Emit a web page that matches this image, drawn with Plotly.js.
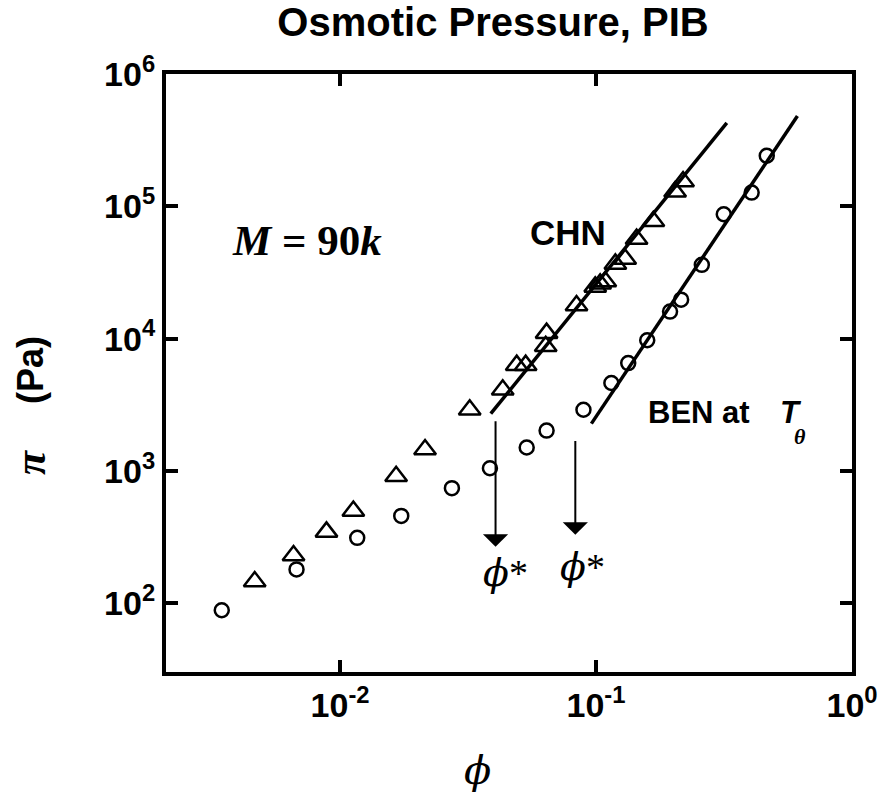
<!DOCTYPE html>
<html>
<head>
<meta charset="utf-8">
<script src="https://cdn.plot.ly/plotly-3.0.1.min.js"></script>
<style>html,body{margin:0;padding:0;background:#fff;}#chart{width:886px;height:795px;}</style>
</head>
<body>
<div id="chart"></div>
<script>
// CHN (triangles)
const chnPhi = [0.00464, 0.00658, 0.00885, 0.01127, 0.01656, 0.02148, 0.0321, 0.0432, 0.0490, 0.0531, 0.0636, 0.0641, 0.0839, 0.0993, 0.1038, 0.1087, 0.119, 0.130, 0.144, 0.1675, 0.2037, 0.2188];
const chnPi  = [146, 229, 346, 498, 912, 1450, 2900, 4100, 6300, 6300, 8750, 11000, 17800, 24600, 26000, 27000, 36700, 40000, 56500, 77000, 129000, 154000];
// BEN at theta (circles)
const benPhi = [0.00345, 0.00676, 0.01167, 0.01734, 0.02735, 0.0385, 0.0536, 0.0641, 0.0893, 0.1148, 0.1336, 0.1585, 0.1946, 0.215, 0.259, 0.3155, 0.4055, 0.4645];
const benPi  = [88.5, 180, 312, 457, 741, 1047, 1503, 2018, 2900, 4620, 6530, 9710, 16000, 19700, 36100, 87100, 127000, 241000];
// power-law fit lines (end points)
const chnFitPhi = [0.0388, 0.3243];
const chnFitPi  = [2706, 427000];
const benFitPhi = [0.0959, 0.612];
const benFitPi  = [2276, 482000];
// overlap concentration arrows
const starPhi   = [0.0405, 0.083];
const starTop   = [2440, 1726];
const starTip   = [267, 329];
// tick labels
const xTickVals = [0.01, 0.1, 1];
const xTickText = ['10<sup>-2</sup>', '10<sup>-1</sup>', '10<sup>0</sup>'];
const yTickVals = [100, 1000, 10000, 100000, 1000000];
const yTickText = ['10<sup>2</sup>', '10<sup>3</sup>', '10<sup>4</sup>', '10<sup>5</sup>', '10<sup>6</sup>'];

const SANS = 'Liberation Sans, Arial, sans-serif';
const SERIF = 'Liberation Serif, Times New Roman, serif';
const PHI = 'DejaVu Serif, Liberation Serif, serif';

const traces = [
  {x: chnPhi, y: chnPi, mode: 'markers', type: 'scatter', name: 'CHN',
   marker: {symbol: 'triangle-up-open', size: 19, color: '#000', line: {width: 2.5, color: '#000'}}},
  {x: benPhi, y: benPi, mode: 'markers', type: 'scatter', name: 'BEN',
   marker: {symbol: 'circle-open', size: 14, color: '#000', line: {width: 2.5, color: '#000'}}},
  {x: chnFitPhi, y: chnFitPi, mode: 'lines', type: 'scatter', line: {color: '#000', width: 3.5}},
  {x: benFitPhi, y: benFitPi, mode: 'lines', type: 'scatter', line: {color: '#000', width: 3.5}}
];

const annotations = [];
for (let i = 0; i < starPhi.length; i++) {
  annotations.push({
    xref: 'x', yref: 'y', axref: 'x', ayref: 'y',
    x: Math.log10(starPhi[i]), y: Math.log10(starTip[i]),
    ax: Math.log10(starPhi[i]), ay: Math.log10(starTop[i]),
    text: '', showarrow: true, arrowhead: 1, arrowsize: 2.1, arrowwidth: 2, arrowcolor: '#000', standoff: 0
  });
}
const PW = 686, PH = 598, PL = 166, PT = 74;
function px(x) { return (x - PL) / PW; }
function py(y) { return (PT + PH - y) / PH; }
function txt(o) { return Object.assign({xref: 'paper', yref: 'paper', showarrow: false, xanchor: 'center', yanchor: 'middle'}, o); }

annotations.push(txt({x: px(307), y: py(240),
  text: '<i>M</i> = 90<i>k</i>', font: {family: SERIF, size: 43, color: '#000', weight: 'bold'}}));
annotations.push(txt({x: px(568), y: py(232),
  text: 'CHN', font: {family: SANS, size: 35, color: '#000', weight: 'bold'}}));
annotations.push(txt({x: px(646), y: py(412), xanchor: 'left',
  text: 'BEN at', font: {family: SANS, size: 31, color: '#000', weight: 'bold'}}));
annotations.push(txt({x: px(778), y: py(412), xanchor: 'left',
  text: '<i>T</i>', font: {family: SANS, size: 31, color: '#000', weight: 'bold'}}));
annotations.push(txt({x: px(800), y: py(437),
  text: '<i>θ</i>', font: {family: SERIF, size: 22, color: '#000', weight: 'bold'}}));
annotations.push(txt({x: px(505), y: py(573),
  text: '<i>ϕ</i><span style="font-family:Liberation Serif">*</span>', font: {family: PHI, size: 38, color: '#000'}}));
annotations.push(txt({x: px(582), y: py(567),
  text: '<i>ϕ</i><span style="font-family:Liberation Serif">*</span>', font: {family: PHI, size: 38, color: '#000'}}));
annotations.push(txt({x: px(477), y: py(770),
  text: '<i>ϕ</i>', font: {family: PHI, size: 40, color: '#000'}}));
annotations.push(txt({x: px(30), y: py(463), textangle: -90,
  text: '<i>π</i>', font: {family: SERIF, size: 44, color: '#000', weight: 'bold'}}));
annotations.push(txt({x: px(30), y: py(370), textangle: -90,
  text: '(Pa)', font: {family: SANS, size: 36, color: '#000', weight: 'bold'}}));

const axisCommon = {
  type: 'log', showgrid: false, zeroline: false,
  showline: true, linewidth: 4, linecolor: '#000', mirror: 'ticks',
  ticks: 'inside', ticklen: 12, tickwidth: 4, tickcolor: '#000',
  tickmode: 'array',
  tickfont: {family: SANS, size: 34, color: '#000', weight: 'bold'}
};

const layout = {
  width: 886, height: 795,
  paper_bgcolor: '#fff', plot_bgcolor: '#fff',
  margin: {l: PL, r: 886 - PL - PW, t: PT, b: 795 - PT - PH},
  showlegend: false,
  title: {text: 'Osmotic Pressure, PIB', xref: 'container', yref: 'container',
          x: 493 / 886, xanchor: 'center', y: 1 - 22 / 795, yanchor: 'middle',
          font: {family: SANS, size: 40, color: '#000', weight: 'bold'}},
  xaxis: Object.assign({}, axisCommon, {range: [-2.68, 0.0], tickvals: xTickVals, ticktext: xTickText}),
  yaxis: Object.assign({}, axisCommon, {range: [1.48, 6.0], tickvals: yTickVals, ticktext: yTickText}),
  annotations: annotations
};

Plotly.newPlot('chart', traces, layout, {displayModeBar: false, staticPlot: true});
</script>
</body>
</html>
